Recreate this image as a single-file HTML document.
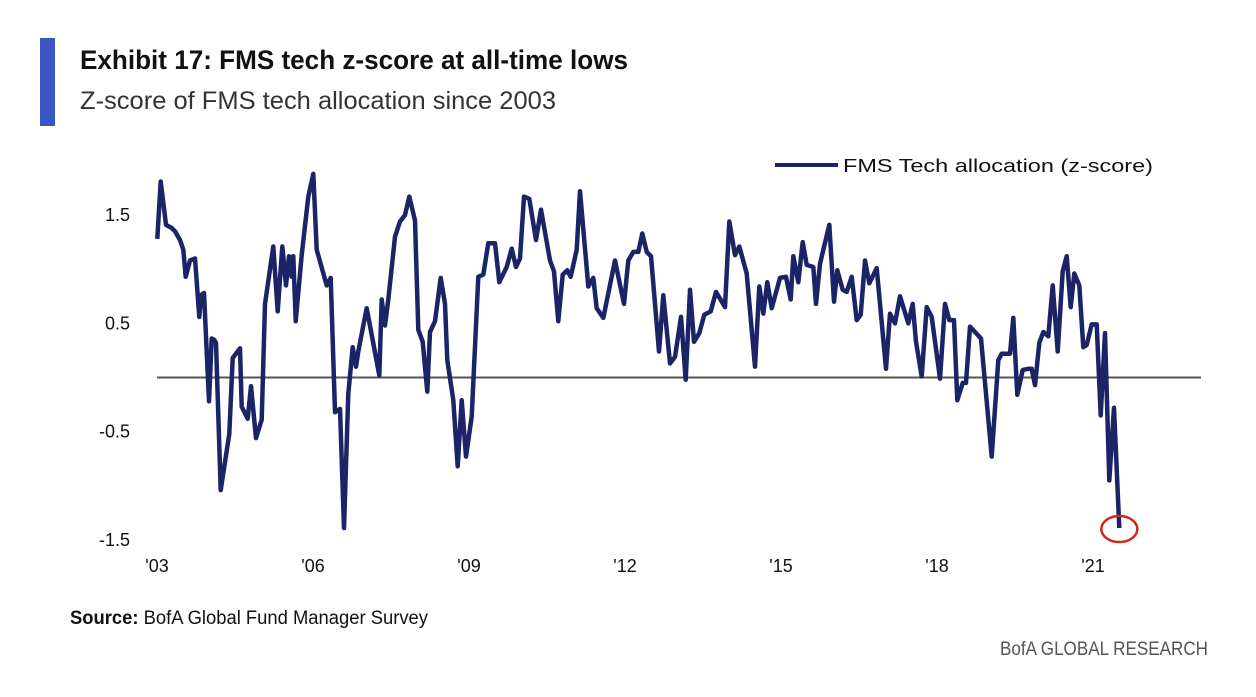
<!DOCTYPE html>
<html><head><meta charset="utf-8"><style>
html,body{margin:0;padding:0;background:#fff;}
svg{display:block;font-family:"Liberation Sans",Arial,sans-serif;}
</style></head><body>
<svg id="chart" width="1256" height="697" viewBox="0 0 1256 697">
<rect x="40" y="38" width="15" height="88" fill="#3a55c4"/>
<text x="80" y="69" font-size="27" font-weight="bold" fill="#111" textLength="548" lengthAdjust="spacingAndGlyphs">Exhibit 17: FMS tech z-score at all-time lows</text>
<text x="80" y="109" font-size="25" fill="#333" textLength="476" lengthAdjust="spacingAndGlyphs">Z-score of FMS tech allocation since 2003</text>
<line x1="775" y1="165" x2="838" y2="165" stroke="#1b2466" stroke-width="4"/>
<text x="843" y="172" font-size="18" fill="#111" textLength="310" lengthAdjust="spacingAndGlyphs">FMS Tech allocation (z-score)</text>
<g id="yaxis"></g>
<g id="xaxis"></g>
<line id="zeroline" stroke="#555" stroke-width="2"/>
<path id="series" fill="none" stroke="#1b2466" stroke-width="4.5" stroke-linejoin="round"/>
<ellipse id="marker" fill="none" stroke="#d0261e" stroke-width="2.5" rx="18" ry="13"/>
<text x="70" y="624" font-size="19" fill="#111" textLength="358" lengthAdjust="spacingAndGlyphs"><tspan font-weight="bold">Source:</tspan> BofA Global Fund Manager Survey</text>
<text x="1208" y="655" font-size="19" fill="#555" text-anchor="end" textLength="208" lengthAdjust="spacingAndGlyphs">BofA GLOBAL RESEARCH</text>
</svg>
<script>
const yTicks = [1.5, 0.5, -0.5, -1.5];
const yTickLabels = ["1.5", "0.5", "-0.5", "-1.5"];
const xTicks = [2003, 2006, 2009, 2012, 2015, 2018, 2021];
const xTickLabels = ["'03", "'06", "'09", "'12", "'15", "'18", "'21"];
const zIdx = [0,1,2,3,4,5,6,7,8,9,10,11,12,13,14,15,16,17,18,19,20,21,22,23,24,25,26,27,28,29,30,31,32,33,34,35,36,37,38,39,40,41,42,43,44,45,46,47,48,49,50,51,52,53,54,55,56,57,58,59,60,61,62,63,64,65,66,67,68,69,70,71,72,73,74,75,76,77,78,79];
const zoomA = [[52,1.28],[62,1.81],[78,1.41],[95,1.38],[105,1.35],[120,1.27],[130,1.18],[137,0.93],[150,1.08],[165,1.10],[178,0.56],[183,0.76],[192,0.78],[207,-0.22],[215,0.36],[222,0.35],[228,0.32],[242,-1.04],[268,-0.52],[278,0.18],[300,0.27],[305,-0.27],[323,-0.38],[333,-0.08],[348,-0.56],[365,-0.39],[375,0.68],[400,1.21],[413,0.61],[427,1.21],[438,0.85],[447,1.12],[455,0.93],[460,1.12],[467,0.52],[485,1.13],[505,1.67],[520,1.88],[530,1.18],[553,0.93],[560,0.85],[572,0.92],[585,-0.32],[600,-0.29],[612,-1.39],[625,-0.15],[638,0.28],[648,0.10],[655,0.24],[680,0.64],[718,0.02],[725,0.72],[735,0.48],[745,0.72],[765,1.30],[780,1.44],[795,1.50],[808,1.67],[825,1.45],[835,0.44],[848,0.33],[862,-0.13],[870,0.42],[885,0.52],[902,0.92],[915,0.68],[922,0.16],[940,-0.21],[953,-0.82],[965,-0.21],[978,-0.73],[995,-0.36],[1015,0.93],[1030,0.95],[1045,1.24],[1065,1.24],[1078,0.88]];
const zoomB = [[80,1.02],[95,1.19],[108,1.02],[120,1.10],[132,1.67],[148,1.65],[168,1.27],[183,1.55],[210,1.08],[222,0.98],[235,0.52],[248,0.95],[262,0.99],[272,0.93],[290,1.18],[300,1.72],[325,0.84],[340,0.92],[350,0.64],[370,0.55],[405,1.08],[432,0.68],[445,1.08],[460,1.16],[475,1.16],[487,1.33],[500,1.16],[513,1.12],[537,0.24],[550,0.76],[570,0.13],[585,0.19],[603,0.56],[617,-0.02],[630,0.81],[642,0.33],[658,0.41],[673,0.58],[692,0.61],[708,0.79],[735,0.65],[748,1.44],[765,1.13],[778,1.21],[800,0.96],[825,0.10],[838,0.84],[850,0.59],[862,0.88],[875,0.64],[900,0.92],[918,0.93],[932,0.72],[940,1.12],[955,0.88],[968,1.25],[980,1.04],[1000,1.02],[1008,0.68],[1020,1.05],[1048,1.41]];
const zoomC = [[12,0.70],[22,0.99],[38,0.81],[50,0.79],[65,0.93],[80,0.53],[92,0.58],[105,1.08],[118,0.87],[140,1.01],[168,0.08],[180,0.59],[195,0.50],[210,0.75],[235,0.50],[248,0.68],[258,0.33],[275,0.01],[290,0.65],[305,0.56],[330,-0.01],[345,0.68],[358,0.53],[372,0.53],[382,-0.21],[398,-0.05],[408,-0.05],[420,0.47],[453,0.36],[485,-0.73],[505,0.16],[515,0.22],[540,0.22],[550,0.55],[562,-0.16],[578,0.07],[595,0.08],[605,0.08],[615,-0.07],[628,0.32],[640,0.42],[655,0.38],[668,0.85],[683,0.24],[698,0.98],[710,1.12],[722,0.65],[733,0.96],[748,0.85],[760,0.28],[770,0.30],[785,0.49],[800,0.49],[812,-0.35],[825,0.41],[838,-0.95],[852,-0.28],[868,-1.39]];
// convert read-off positions into decimal years
const dates = [].concat(
  zoomA.map(p => 2003 + (p[0]-51)/156),
  zoomB.map(p => 2003 + (969+p[0])/156),
  zoomC.map(p => 2003 + (2019+p[0])/156));
const values = [].concat(zoomA.map(p=>p[1]), zoomB.map(p=>p[1]), zoomC.map(p=>p[1]));

const X0 = 157, PX_PER_YEAR = 52, Y0 = 377.5, PX_PER_UNIT = 108.3;
const xScale = d => X0 + (d - 2003) * PX_PER_YEAR;
const yScale = v => Y0 - v * PX_PER_UNIT;
const NS = "http://www.w3.org/2000/svg";

const ya = document.getElementById('yaxis');
yTicks.forEach((t,i)=>{
  const el = document.createElementNS(NS,'text');
  el.setAttribute('x', 130); el.setAttribute('y', yScale(t)+6);
  el.setAttribute('text-anchor','end'); el.setAttribute('font-size','18'); el.setAttribute('fill','#111');
  
  
  el.textContent = yTickLabels[i]; ya.appendChild(el);
});
const xa = document.getElementById('xaxis');
xTicks.forEach((t,i)=>{
  const el = document.createElementNS(NS,'text');
  el.setAttribute('x', xScale(t)); el.setAttribute('y', 572);
  el.setAttribute('text-anchor','middle'); el.setAttribute('font-size','18'); el.setAttribute('fill','#111');
  
  
  el.textContent = xTickLabels[i]; xa.appendChild(el);
});
const zl = document.getElementById('zeroline');
zl.setAttribute('x1', xScale(2003)); zl.setAttribute('x2', 1201);
zl.setAttribute('y1', yScale(0)); zl.setAttribute('y2', yScale(0));

let d = '';
dates.forEach((dt,i)=>{ d += (i?'L':'M') + xScale(dt).toFixed(1) + ',' + yScale(values[i]).toFixed(1); });
document.getElementById('series').setAttribute('d', d);
const last = dates.length-1;
const mk = document.getElementById('marker');
mk.setAttribute('cx', xScale(dates[last]));
mk.setAttribute('cy', yScale(values[last]) + 1);
</script>
</body></html>
